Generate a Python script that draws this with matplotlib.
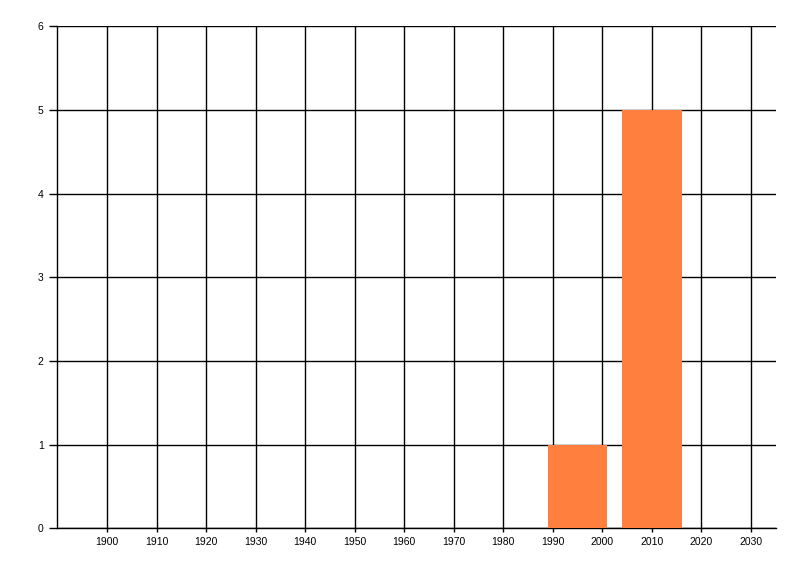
import matplotlib
matplotlib.use("Agg")
import matplotlib.pyplot as plt

bar_centers = [1995, 2010]
bar_values = [1, 5]
bar_width = 12
x_ticks = [1900, 1910, 1920, 1930, 1940, 1950, 1960, 1970, 1980, 1990, 2000, 2010, 2020, 2030]
y_ticks = [0, 1, 2, 3, 4, 5, 6]

plt.rcParams['font.family'] = ['Liberation Sans', 'DejaVu Sans']

fig = plt.figure(figsize=(8, 5.76), dpi=100)
ax = fig.add_axes([57.5/800, 1-528.3/576, (775.7-57.5)/800, (528.3-26.3)/576])

ax.bar(bar_centers, bar_values, width=bar_width, color='#FF7F3F', zorder=3)

ax.set_xlim(1890, 2035)
ax.set_ylim(0, 6)
ax.set_xticks(x_ticks)
ax.set_yticks(y_ticks)
ax.grid(True, color='black', linewidth=1.0, zorder=1)
ax.set_axisbelow(True)
for s in ['top', 'right']:
    ax.spines[s].set_visible(False)
for s in ['left', 'bottom']:
    ax.spines[s].set_linewidth(1.0)
ax.tick_params(axis='x', length=3, width=1, labelsize=7.5, pad=3)
ax.tick_params(axis='y', length=6, width=1, labelsize=7.5, pad=4)

fig.savefig('out.png', dpi=100)
